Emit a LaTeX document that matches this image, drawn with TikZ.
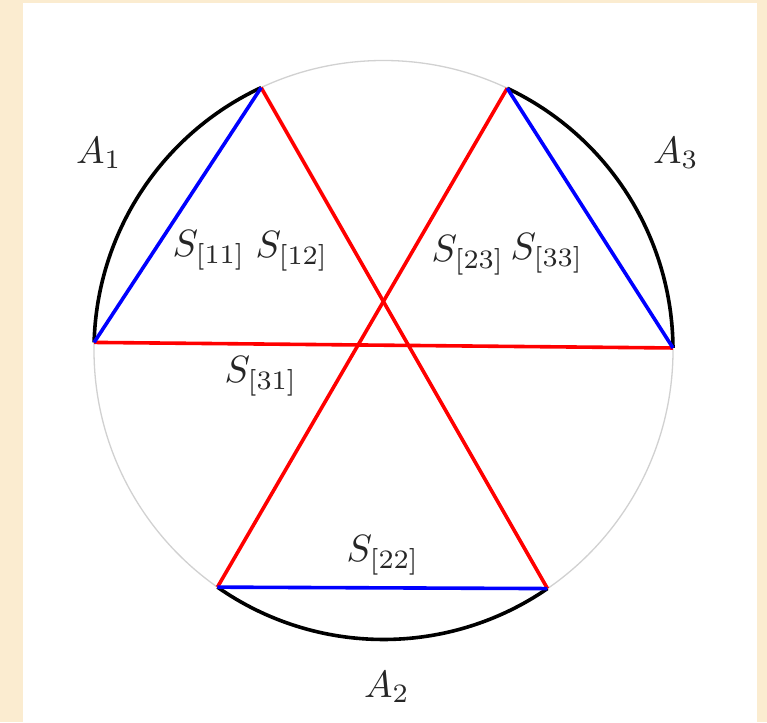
\documentclass[tikz,border=0pt]{standalone}
\usetikzlibrary{calc}
\definecolor{parch}{RGB}{251,236,208}
\begin{document}
\begin{tikzpicture}[x=1pt,y=1pt,
  lbl/.style={scale=3.8, inner sep=0pt, text=black!85},
  chord/.style={blue, line width=3.6pt},
  cross/.style={red, line width=3.6pt},
  arcline/.style={black, line width=3.6pt},
  circ/.style={black!18, line width=1.3pt}]
\fill[parch] (0,0) rectangle (767,722);
\fill[white] (23,0) rectangle (757,719);
\useasboundingbox (0,0) rectangle (767,722);
\coordinate (O) at (383.5,372);
\def\R{289.5}
\coordinate (P1) at ($(O)+(115:\R)$);
\coordinate (P2) at ($(O)+(178.5:\R)$);
\coordinate (P3) at ($(O)+(64.7:\R)$);
\coordinate (P4) at ($(O)+(0.4:\R)$);
\coordinate (P5) at ($(O)+(235:\R)$);
\coordinate (P6) at ($(O)+(304.5:\R)$);
\draw[circ] (O) circle (\R);
\draw[arcline] (P2) arc (178.5:115:\R);
\draw[arcline] (P4) arc (0.4:64.7:\R);
\draw[arcline] (P5) arc (235:304.5:\R);
\draw[cross] (P2) -- (P4);
\draw[cross] (P1) -- (P6);
\draw[cross] (P3) -- (P5);
\draw[chord] (P1) -- (P2);
\draw[chord] (P3) -- (P4);
\draw[chord] (P5) -- (P6);
\node[lbl] (a1) at (99,569) {$A_1$};
\node[lbl] (a3) at (676,569) {$A_3$};
\node[lbl] (a2) at (387,35) {$A_2$};
\node[lbl] (s11) at (209,472) {$S_{[11]}$};
\node[lbl] (s12) at (292,471) {$S_{[12]}$};
\node[lbl] (s23) at (468,467) {$S_{[23]}$};
\node[lbl] (s33) at (547,469) {$S_{[33]}$};
\node[lbl] (s31) at (261,346) {$S_{[31]}$};
\node[lbl] (s22) at (383,167) {$S_{[22]}$};
\end{tikzpicture}
\end{document}
